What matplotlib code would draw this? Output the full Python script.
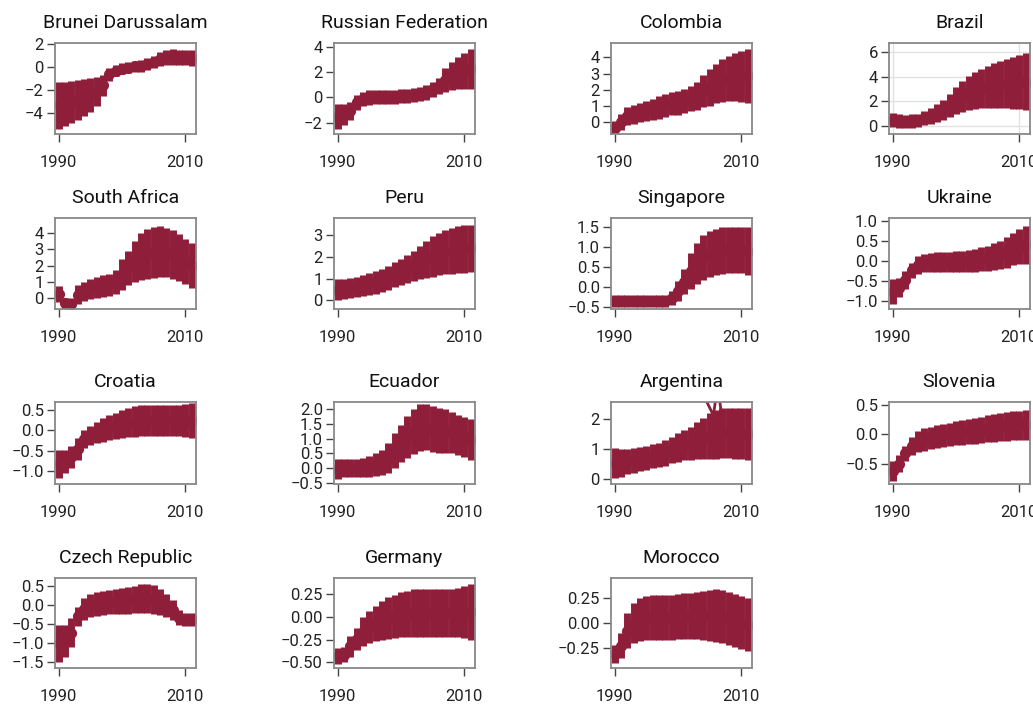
import matplotlib
matplotlib.use("Agg")
import matplotlib.pyplot as plt
from matplotlib.ticker import MultipleLocator
import numpy as np

plt.rcParams["font.family"] = ["Roboto", "DejaVu Sans"]

years = list(range(1990, 2012))

brunei_lo = [-5.4, -5.15, -4.9, -4.6, -4.3, -3.9, -3.4, -2.5, -1.2, -0.8, -0.65, -0.55, -0.45, -0.4, -0.3, -0.1, 0.1, 0.2, 0.2, 0.15, 0.15, 0.1]
brunei_hi = [-1.3, -1.3, -1.25, -1.15, -1.05, -0.95, -0.85, -0.7, -0.1, 0.15, 0.35, 0.45, 0.55, 0.65, 0.75, 0.95, 1.3, 1.5, 1.55, 1.5, 1.5, 1.5]

russia_lo = [-2.5, -2.2, -1.8, -1.0, -0.7, -0.6, -0.55, -0.55, -0.5, -0.5, -0.48, -0.45, -0.35, -0.3, -0.2, 0.05, 0.25, 0.45, 0.6, 0.65, 0.65, 0.65]
russia_hi = [-0.55, -0.55, -0.4, 0.2, 0.45, 0.55, 0.6, 0.6, 0.6, 0.62, 0.65, 0.68, 0.72, 0.8, 0.95, 1.2, 1.5, 2.3, 2.8, 3.2, 3.5, 3.8]

colombia_lo = [-0.75, -0.5, -0.2, -0.1, 0.0, 0.05, 0.15, 0.2, 0.3, 0.4, 0.45, 0.55, 0.65, 0.75, 0.9, 1.0, 1.15, 1.25, 1.3, 1.3, 1.25, 1.15]
colombia_hi = [0.05, 0.5, 0.9, 1.05, 1.15, 1.3, 1.45, 1.6, 1.75, 1.85, 1.95, 2.05, 2.2, 2.5, 2.9, 3.3, 3.6, 3.9, 4.1, 4.3, 4.4, 4.5]

brazil_lo = [-0.1, -0.15, -0.2, -0.15, -0.1, 0.05, 0.15, 0.3, 0.5, 0.7, 0.95, 1.15, 1.3, 1.4, 1.45, 1.5, 1.5, 1.5, 1.45, 1.4, 1.35, 1.3]
brazil_hi = [1.05, 0.95, 0.9, 0.95, 1.0, 1.2, 1.45, 1.75, 2.1, 2.6, 3.2, 3.7, 4.1, 4.4, 4.65, 4.9, 5.1, 5.3, 5.45, 5.6, 5.75, 5.9]

safrica_lo = [-0.25, -0.65, -0.65, -0.35, -0.15, -0.05, 0.05, 0.1, 0.15, 0.25, 0.5, 0.8, 1.0, 1.1, 1.2, 1.25, 1.3, 1.3, 1.2, 1.05, 0.85, 0.65]
safrica_hi = [0.75, 0.05, 0.0, 0.8, 1.0, 1.15, 1.3, 1.4, 1.5, 1.7, 2.4, 2.9, 3.5, 4.0, 4.25, 4.35, 4.4, 4.3, 4.15, 3.9, 3.6, 3.4]

peru_lo = [0.0, 0.05, 0.1, 0.15, 0.2, 0.25, 0.3, 0.4, 0.5, 0.6, 0.7, 0.8, 0.9, 1.0, 1.05, 1.1, 1.15, 1.2, 1.2, 1.25, 1.25, 1.3]
peru_hi = [1.0, 1.0, 1.05, 1.1, 1.15, 1.25, 1.35, 1.45, 1.6, 1.75, 1.9, 2.1, 2.3, 2.5, 2.75, 2.95, 3.1, 3.25, 3.35, 3.45, 3.5, 3.5]

singapore_lo = [-0.5, -0.5, -0.5, -0.5, -0.5, -0.5, -0.5, -0.5, -0.5, -0.45, -0.33, -0.17, -0.05, 0.08, 0.18, 0.25, 0.3, 0.33, 0.35, 0.35, 0.35, 0.3]
singapore_hi = [-0.18, -0.18, -0.18, -0.18, -0.18, -0.18, -0.18, -0.18, -0.18, -0.1, 0.15, 0.45, 0.85, 1.1, 1.3, 1.4, 1.45, 1.5, 1.5, 1.5, 1.5, 1.5]

ukraine_lo = [-1.08, -0.92, -0.7, -0.42, -0.32, -0.28, -0.27, -0.27, -0.27, -0.27, -0.27, -0.27, -0.27, -0.27, -0.26, -0.25, -0.23, -0.2, -0.17, -0.1, -0.07, -0.07]
ukraine_hi = [-0.46, -0.42, -0.25, -0.05, 0.12, 0.17, 0.2, 0.22, 0.23, 0.23, 0.24, 0.25, 0.27, 0.3, 0.34, 0.38, 0.45, 0.5, 0.6, 0.7, 0.8, 0.88]

croatia_lo = [-1.18, -1.06, -0.93, -0.73, -0.44, -0.36, -0.32, -0.28, -0.24, -0.22, -0.2, -0.17, -0.16, -0.14, -0.14, -0.14, -0.14, -0.14, -0.14, -0.14, -0.17, -0.2]
croatia_hi = [-0.48, -0.48, -0.4, -0.2, 0.0, 0.1, 0.2, 0.3, 0.38, 0.43, 0.5, 0.54, 0.58, 0.62, 0.62, 0.62, 0.62, 0.62, 0.62, 0.62, 0.64, 0.66]

ecuador_lo = [-0.36, -0.3, -0.3, -0.3, -0.28, -0.27, -0.25, -0.22, -0.15, 0.0, 0.22, 0.35, 0.47, 0.58, 0.62, 0.55, 0.5, 0.53, 0.53, 0.45, 0.38, 0.28]
ecuador_hi = [0.32, 0.32, 0.32, 0.33, 0.35, 0.42, 0.5, 0.6, 0.85, 1.2, 1.45, 1.75, 1.98, 2.15, 2.15, 2.1, 2.02, 1.97, 1.87, 1.8, 1.72, 1.65]

argentina_lo = [0.02, 0.08, 0.15, 0.2, 0.25, 0.3, 0.35, 0.4, 0.45, 0.52, 0.58, 0.62, 0.65, 0.67, 0.67, 0.67, 0.68, 0.7, 0.7, 0.68, 0.66, 0.62]
argentina_hi = [1.03, 1.0, 1.02, 1.05, 1.08, 1.12, 1.16, 1.22, 1.3, 1.4, 1.55, 1.63, 1.73, 1.9, 2.05, 2.2, 2.32, 2.38, 2.38, 2.38, 2.38, 2.38]
# stray trace that runs off the top of the Argentina panel
argentina_trace_x = [2003.6, 2005.6, 2006.1, 2006.4, 2006.8]
argentina_trace_y = [3.0, 2.13, 2.9, 2.9, 2.3]

slovenia_lo = [-0.8, -0.65, -0.45, -0.35, -0.3, -0.28, -0.26, -0.24, -0.22, -0.2, -0.19, -0.18, -0.17, -0.16, -0.15, -0.14, -0.13, -0.12, -0.11, -0.1, -0.1, -0.1]
slovenia_hi = [-0.45, -0.35, -0.2, -0.05, 0.05, 0.1, 0.13, 0.16, 0.18, 0.2, 0.22, 0.24, 0.26, 0.28, 0.3, 0.32, 0.34, 0.36, 0.38, 0.4, 0.4, 0.42]

czech_lo = [-1.5, -1.37, -1.1, -0.55, -0.38, -0.31, -0.28, -0.26, -0.24, -0.23, -0.22, -0.22, -0.21, -0.21, -0.21, -0.24, -0.27, -0.31, -0.38, -0.53, -0.55, -0.55]
czech_hi = [-0.51, -0.51, -0.35, -0.04, 0.18, 0.3, 0.34, 0.37, 0.4, 0.42, 0.45, 0.48, 0.52, 0.55, 0.57, 0.53, 0.44, 0.31, 0.13, -0.13, -0.2, -0.2]

germany_lo = [-0.52, -0.5, -0.44, -0.36, -0.32, -0.29, -0.27, -0.25, -0.24, -0.23, -0.22, -0.22, -0.22, -0.22, -0.22, -0.22, -0.22, -0.22, -0.22, -0.22, -0.23, -0.25]
germany_hi = [-0.34, -0.33, -0.21, -0.12, -0.01, 0.06, 0.12, 0.17, 0.21, 0.24, 0.27, 0.28, 0.3, 0.3, 0.3, 0.3, 0.3, 0.3, 0.3, 0.31, 0.33, 0.36]

morocco_lo = [-0.4, -0.35, -0.25, -0.2, -0.18, -0.17, -0.17, -0.17, -0.17, -0.17, -0.16, -0.16, -0.16, -0.16, -0.17, -0.18, -0.19, -0.2, -0.22, -0.24, -0.26, -0.28]
morocco_hi = [-0.22, -0.1, 0.1, 0.2, 0.25, 0.27, 0.28, 0.28, 0.28, 0.28, 0.29, 0.3, 0.3, 0.31, 0.32, 0.33, 0.34, 0.33, 0.31, 0.29, 0.27, 0.25]

countries = ["Brunei Darussalam", "Russian Federation", "Colombia", "Brazil",
             "South Africa", "Peru", "Singapore", "Ukraine",
             "Croatia", "Ecuador", "Argentina", "Slovenia",
             "Czech Republic", "Germany", "Morocco"]
lows = [brunei_lo, russia_lo, colombia_lo, brazil_lo, safrica_lo, peru_lo,
        singapore_lo, ukraine_lo, croatia_lo, ecuador_lo, argentina_lo,
        slovenia_lo, czech_lo, germany_lo, morocco_lo]
highs = [brunei_hi, russia_hi, colombia_hi, brazil_hi, safrica_hi, peru_hi,
         singapore_hi, ukraine_hi, croatia_hi, ecuador_hi, argentina_hi,
         slovenia_hi, czech_hi, germany_hi, morocco_hi]
y_limits = [(-5.85, 2.1), (-2.9, 4.3), (-0.75, 4.9), (-0.65, 6.75),
            (-0.65, 4.9), (-0.4, 3.8), (-0.54, 1.72), (-1.21, 1.08),
            (-1.32, 0.69), (-0.52, 2.22), (-0.17, 2.58), (-0.85, 0.55),
            (-1.66, 0.72), (-0.56, 0.42), (-0.45, 0.45)]
y_steps = [2, 2, 1, 2, 1, 1, 0.5, 0.5, 0.5, 0.5, 1, 0.5, 0.5, 0.25, 0.25]

color = "#8f1e3b"
W, H = 1033, 704
col_left = [55, 334, 611, 889]
row_top = [43, 218, 402, 578]
row_h = [91, 91, 82, 90]
ax_w = 141

fig = plt.figure(figsize=(W / 100, H / 100), dpi=100)

for i, name in enumerate(countries):
    r, c = divmod(i, 4)
    ax = fig.add_axes([col_left[c] / W, 1 - (row_top[r] + row_h[r]) / H,
                       ax_w / W, row_h[r] / H])
    lo = np.array(lows[i])
    hi = np.array(highs[i])
    mid = (lo + hi) / 2
    ax.errorbar(years, mid, yerr=[mid - lo, hi - mid], fmt="o", color=color,
                ms=7, elinewidth=5, capsize=0)
    if name == "Argentina":
        ax.plot(argentina_trace_x, argentina_trace_y, color=color, lw=2)
    ax.set_xlim(1989.4, 2011.7)
    ax.set_ylim(*y_limits[i])
    ax.set_xticks([1990, 2010])
    ax.yaxis.set_major_locator(MultipleLocator(y_steps[i]))
    if name == "Brazil":
        ax.grid(True, color="#e2e2e2", lw=1)
        ax.set_axisbelow(True)
    ax.set_title(name, fontsize=14, pad=11, color="#111111")
    ax.tick_params(labelsize=12, length=6, width=1, color="#444444",
                   labelcolor="#222222", pad=2)
    ax.tick_params(axis="x", pad=9)
    for s in ax.spines.values():
        s.set_color("#888888")
        s.set_linewidth(1.3)

fig.savefig("out.png", dpi=100)
